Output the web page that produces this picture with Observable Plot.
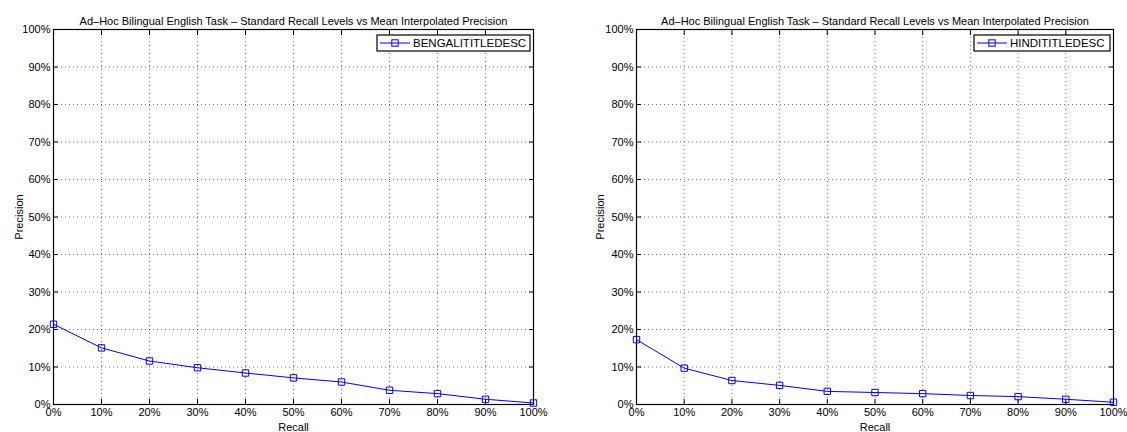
<!DOCTYPE html>
<html>
<head>
<meta charset="utf-8">
<script src="https://cdn.jsdelivr.net/npm/d3@7"></script>
<script src="https://cdn.jsdelivr.net/npm/@observablehq/plot@0.6"></script>
<style>
  html, body { margin: 0; padding: 0; background: #fff; }
  #wrap { display: flex; width: 1127px; height: 432px; }
</style>
</head>
<body>
<div id="wrap"></div>
<script>
const recall = [0, 10, 20, 30, 40, 50, 60, 70, 80, 90, 100];
const bengaliPrecision = [21.4, 15.1, 11.6, 9.8, 8.4, 7.1, 6.0, 3.8, 2.9, 1.4, 0.4];
const hindiPrecision = [17.3, 9.7, 6.4, 5.1, 3.5, 3.2, 2.9, 2.4, 2.1, 1.4, 0.6];
const tickValues = [0, 10, 20, 30, 40, 50, 60, 70, 80, 90, 100];
const titleText = "Ad\u2013Hoc Bilingual English Task \u2013 Standard Recall Levels vs Mean Interpolated Precision";
const xLabel = "Recall";
const yLabel = "Precision";
const seriesNames = ["BENGALITITLEDESC", "HINDITITLEDESC"];

const BLUE = "#0000ff";
const fmt = d => d + "%";

function panel(values, name, opts) {
  const data = recall.map((r, i) => ({recall: r, precision: values[i]}));
  const plot = Plot.plot({
    width: opts.width,
    height: 432,
    marginLeft: opts.marginLeft,
    marginRight: opts.marginRight,
    marginTop: 29,
    marginBottom: 28,
    style: {fontFamily: "'Liberation Sans', Arial, sans-serif", fontSize: "11px", background: "#fff", color: "#000", overflow: "visible"},
    x: {domain: [0, 100]},
    y: {domain: [0, 100]},
    marks: [
      Plot.gridX(tickValues, {stroke: "#000", strokeOpacity: 0.55, strokeDasharray: "1,3"}),
      Plot.gridY(tickValues, {stroke: "#000", strokeOpacity: 0.55, strokeDasharray: "1,3"}),
      Plot.axisX(tickValues, {anchor: "bottom", tickSize: -5, tickPadding: 9, tickFormat: fmt, label: xLabel, labelAnchor: "center", labelOffset: 26, labelArrow: "none"}),
      Plot.axisX(tickValues, {anchor: "top", tickSize: -5, tickFormat: () => "", label: null}),
      Plot.axisY(tickValues, {anchor: "left", tickSize: -5, tickPadding: 8, tickFormat: fmt, label: yLabel, labelAnchor: "center", labelOffset: opts.labelOffset, labelArrow: "none"}),
      Plot.axisY(tickValues, {anchor: "right", tickSize: -5, tickFormat: () => "", label: null}),
      Plot.frame({stroke: "#000", strokeWidth: 1.2}),
      Plot.line(data, {x: "recall", y: "precision", stroke: BLUE, strokeWidth: 1}),
      Plot.dot(data, {x: "recall", y: "precision", symbol: "square", r: 3.6, stroke: BLUE, fill: "none", strokeWidth: 1}),
      Plot.text([titleText], {frameAnchor: "top", dy: -12, fontSize: 11})
    ]
  });
  // legend box (inside frame, top-right)
  const svg = d3.select(plot);
  const frameRight = opts.width - opts.marginRight;
  const bw = opts.legendWidth, bh = 16;
  const bx = frameRight - 3 - bw, by = 29 + 6;
  const g = svg.append("g").attr("class", "legend");
  g.append("rect").attr("x", bx).attr("y", by).attr("width", bw).attr("height", bh)
    .attr("fill", "#fff").attr("stroke", "#000").attr("stroke-width", 1.2);
  const cy = by + bh / 2;
  g.append("line").attr("x1", bx + 3).attr("x2", bx + 33).attr("y1", cy).attr("y2", cy)
    .attr("stroke", BLUE).attr("stroke-width", 1);
  g.append("rect").attr("x", bx + 18 - 3.2).attr("y", cy - 3.2).attr("width", 6.4).attr("height", 6.4)
    .attr("fill", "none").attr("stroke", BLUE).attr("stroke-width", 1);
  g.append("text").attr("x", bx + 36).attr("y", cy).attr("dy", "0.35em")
    .attr("text-anchor", "start").attr("font-size", 11.5).attr("fill", "#000").text(name);
  return plot;
}

const wrap = document.getElementById("wrap");
wrap.appendChild(panel(bengaliPrecision, seriesNames[0], {width: 563, marginLeft: 53, marginRight: 30, labelOffset: 38, legendWidth: 153}));
wrap.appendChild(panel(hindiPrecision, seriesNames[1], {width: 564, marginLeft: 73, marginRight: 14, labelOffset: 40, legendWidth: 136}));
</script>
</body>
</html>
